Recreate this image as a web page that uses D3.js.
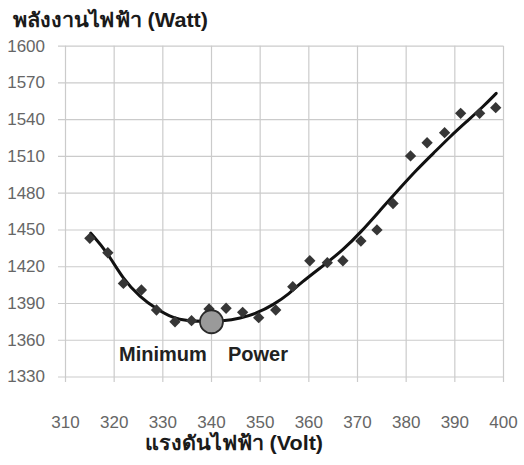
<!DOCTYPE html>
<meta charset="utf-8">
<style>
  body { margin: 0; background: #fff; }
  svg { font-family: "Liberation Sans", Arial, sans-serif; }
  .grid line { stroke: #cbcbcb; stroke-width: 1.2px; }
  .grid text { fill: #666; font-size: 17px; }
  .title { font-weight: bold; font-size: 20px; fill: #1a1a1a; }
  .note { font-weight: bold; font-size: 20px; fill: #222; }
</style>
<body>
<svg id="chart"></svg>
<script src="https://d3js.org/d3.v7.min.js"></script>
<script>
  var width = 524,
    height = 465;

  // measured points (Volt, Watt)
  var volt = [315.1, 318.8, 322.0, 325.7, 328.8, 332.6, 336.0, 339.6, 343.1, 346.5, 349.8, 353.3, 356.8,
    360.3, 363.9, 367.1, 370.8, 374.1, 377.4, 381.0, 384.4, 388.0, 391.3, 395.2, 398.5];
  var watt = [1442.8, 1431, 1406, 1400.6, 1384.3, 1374.7, 1375.6, 1385.1, 1385.7, 1382.4, 1378, 1384.3, 1403.3,
    1424.5, 1422.9, 1424.5, 1440.6, 1449.6, 1471.2, 1510, 1520.8, 1529, 1544.8, 1544.8, 1549.4];

  // trend line
  var trendVolt = [315.3, 318.6, 322.0, 325.4, 328.8, 332.2, 335.3, 338.0, 342.5, 346.0, 349.4, 352.8, 356.2,
    358.3, 363.7, 367.1, 370.6, 375.4, 378.8, 382.2, 385.7, 389.1, 392.5, 395.9, 398.6];
  var trendWatt = [1447, 1432, 1409, 1395, 1385, 1377.5, 1375.5, 1374.8, 1375.3, 1377.5, 1381.6, 1388.4, 1397.9,
    1406, 1422.4, 1433.3, 1446.9, 1468.6, 1483.6, 1498.5, 1512.2, 1525.7, 1538, 1550.2, 1561.1];

  var minPoint = [340.1, 1374.7];

  var xTicks = [310, 320, 330, 340, 350, 360, 370, 380, 390, 400];
  var yTicks = [1330, 1360, 1390, 1420, 1450, 1480, 1510, 1540, 1570, 1600];

  var yTitle = "พลังงานไฟฟ้า (Watt)";
  var xTitle = "แรงดันไฟฟ้า (Volt)";
  var noteText = ["Minimum", "Power"];

  var x = d3.scaleLinear().domain([310, 400]).range([65, 503]);
  var y = d3.scaleLinear().domain([1330, 1600]).range([376.5, 45.7]);

  var svg = d3.select("#chart")
    .attr("width", width)
    .attr("height", height);

  // horizontal grid + y labels
  svg.append("g")
    .attr("class", "grid")
    .attr("transform", "translate(58,0)")
    .call(d3.axisLeft(y).tickValues(yTicks).tickSize(-(503 - 58)).tickPadding(13).tickFormat(d3.format("d")))
    .call(function (g) { g.select(".domain").remove(); });

  // vertical grid + x labels
  svg.append("g")
    .attr("class", "grid")
    .attr("transform", "translate(0," + y(1600) + ")")
    .call(d3.axisBottom(x).tickValues(xTicks).tickSize(382 - y(1600)).tickPadding(34).tickFormat(d3.format("d")))
    .call(function (g) { g.select(".domain").remove(); });

  svg.selectAll(".grid text").attr("font-family", null).attr("font-size", null);

  // trend line
  var line = d3.line()
    .x(function (d) { return x(d[0]); })
    .y(function (d) { return y(d[1]); })
    .curve(d3.curveBasis);

  svg.append("path")
    .datum(d3.zip(trendVolt, trendWatt))
    .attr("fill", "none")
    .attr("stroke", "#111")
    .attr("stroke-width", 3)
    .attr("stroke-linecap", "round")
    .attr("d", line);

  // data points
  svg.append("g")
    .selectAll("path")
    .data(d3.zip(volt, watt))
    .join("path")
    .attr("d", d3.symbol(d3.symbolSquare, 64))
    .attr("fill", "#363636")
    .attr("transform", function (d) {
      return "translate(" + x(d[0]) + "," + y(d[1]) + ") rotate(45)";
    });

  // minimum marker
  svg.append("circle")
    .attr("cx", x(minPoint[0]))
    .attr("cy", y(minPoint[1]))
    .attr("r", 11.5)
    .attr("fill", "#9a9a9a")
    .attr("stroke", "#2a2a2a")
    .attr("stroke-width", 1.8);

  svg.append("text")
    .attr("class", "note")
    .attr("x", 119)
    .attr("y", 361)
    .text(noteText[0]);

  svg.append("text")
    .attr("class", "note")
    .attr("x", 228)
    .attr("y", 361)
    .text(noteText[1]);

  // axis titles
  svg.append("text")
    .attr("class", "title")
    .attr("x", 13)
    .attr("y", 27)
    .attr("textLength", 195)
    .attr("lengthAdjust", "spacingAndGlyphs")
    .text(yTitle);

  svg.append("text")
    .attr("class", "title")
    .attr("x", 145)
    .attr("y", 450)
    .attr("textLength", 178)
    .attr("lengthAdjust", "spacingAndGlyphs")
    .text(xTitle);
</script>
</body>
